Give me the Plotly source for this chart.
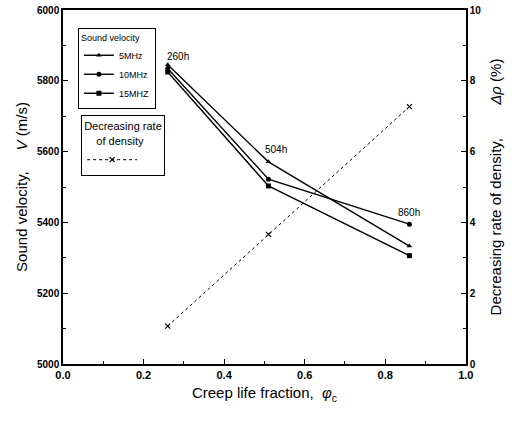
import plotly.graph_objects as go

# Data
life_fraction = [0.26, 0.51, 0.86]
hours_labels = ["260h", "504h", "860h"]
v_5mhz = [5845, 5571, 5333]
v_10mhz = [5835, 5522, 5395]
v_15mhz = [5825, 5503, 5306]
density_rate = [1.07, 3.66, 7.27]
x_ticks = [0.0, 0.2, 0.4, 0.6, 0.8, 1.0]
x_tick_labels = ["0.0", "0.2", "0.4", "0.6", "0.8", "1.0"]

FONT = "Liberation Sans Narrow, Liberation Sans, Arial, sans-serif"

fig = go.Figure()

series = [
    ("5MHz", v_5mhz, "triangle-up", 5),
    ("10MHz", v_10mhz, "circle", 5),
    ("15MHZ", v_15mhz, "square", 5),
]
for name, vals, sym, sz in series:
    fig.add_trace(go.Scatter(
        x=life_fraction, y=vals, name=name, mode="lines+markers",
        line=dict(color="black", width=1.4),
        marker=dict(symbol=sym, size=sz, color="black"),
        legend="legend",
    ))

fig.add_trace(go.Scatter(
    x=life_fraction, y=density_rate, name=" ", mode="lines+markers",
    line=dict(color="black", width=1, dash="dot"),
    marker=dict(symbol="x-thin", size=5, color="black",
                line=dict(color="black", width=1.2)),
    yaxis="y2", legend="legend2",
))

# Hour labels
label_y = [v_5mhz[0], v_5mhz[1], v_10mhz[2]]
label_dx = [10, 8, 0]
label_dy = [8, 12, 12]
for xv, yv, txt, dx, dy in zip(life_fraction, label_y, hours_labels, label_dx, label_dy):
    fig.add_annotation(x=xv, y=yv, text=txt, showarrow=False,
                       xshift=dx, yshift=dy,
                       font=dict(family=FONT, size=10, color="black"))

fig.update_layout(
    width=528, height=421,
    margin=dict(l=63, r=62, t=10, b=57),
    paper_bgcolor="white", plot_bgcolor="white",
    font=dict(family=FONT, color="black"),
    showlegend=True,
    xaxis=dict(
        range=[0, 1.0005], tickmode="array", tickvals=x_ticks,
        ticktext=x_tick_labels, automargin=False,
        ticks="inside", ticklen=5, tickwidth=1, tickcolor="black",
        minor=dict(dtick=0.1, tick0=0, ticks="inside", ticklen=3, tickcolor="black"),
        showline=True, linecolor="black", linewidth=1.5, mirror=True,
        showgrid=False, zeroline=False, ticklabeloverflow="allow",
        tickfont=dict(family=FONT, size=11, color="black", weight="bold"),
        title=dict(text="Creep life fraction,  <i>φ</i><sub>c</sub>",
                   font=dict(family=FONT, size=15, color="black"), standoff=8),
    ),
    yaxis=dict(
        range=[5000, 6000], dtick=200, automargin=False,
        ticks="inside", ticklen=5, tickwidth=1, tickcolor="black",
        minor=dict(dtick=100, ticks="inside", ticklen=3, tickcolor="black"),
        showline=True, linecolor="black", linewidth=1.5,
        showgrid=False, zeroline=False, ticklabeloverflow="allow",
        tickfont=dict(family=FONT, size=10, color="black", weight="bold"),
        title=dict(text="Sound velocity,     <i>V</i> (m/s)",
                   font=dict(family=FONT, size=15, color="black"), standoff=6),
    ),
    yaxis2=dict(
        range=[0, 10], dtick=2, overlaying="y", side="right", automargin=False,
        ticks="inside", ticklen=5, tickwidth=1, tickcolor="black",
        minor=dict(dtick=1, ticks="inside", ticklen=3, tickcolor="black"),
        showline=True, linecolor="black", linewidth=1.5,
        showgrid=False, zeroline=False, ticklabeloverflow="allow",
        tickfont=dict(family=FONT, size=10, color="black", weight="bold"),
        title=dict(text="Decreasing rate of density,        <i>Δρ</i> (%)",
                   font=dict(family=FONT, size=15, color="black"), standoff=10),
    ),
    legend=dict(
        x=0.037, y=0.949, xanchor="left", yanchor="top",
        bordercolor="black", borderwidth=1, bgcolor="white",
        title=dict(text="Sound velocity", font=dict(family=FONT, size=9)),
        font=dict(family=FONT, size=9, color="black"),
        itemwidth=30, tracegroupgap=0,
    ),
    legend2=dict(
        x=0.045, y=0.703, xanchor="left", yanchor="top",
        bordercolor="black", borderwidth=1, bgcolor="white",
        title=dict(text="Decreasing rate<br>    of density", side="top",
                   font=dict(family=FONT, size=11)),
        font=dict(family=FONT, size=13, color="black"),
        itemwidth=50,
    ),
)

fig.write_html("out.html",
               config={"displayModeBar": False},
               post_script="document.body.style.margin='0';document.body.style.overflow='hidden';")
